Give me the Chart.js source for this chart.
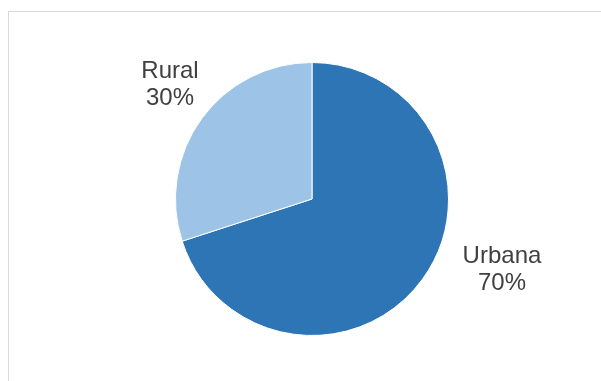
<!DOCTYPE html>
<html>
<head>
<meta charset="utf-8">
<script src="https://cdn.jsdelivr.net/npm/chart.js@4"></script>
<style>
  html, body { margin: 0; padding: 0; background: #fff; overflow: hidden; }
  #wrap { position: relative; width: 601px; height: 381px; }
  #frame { position: absolute; left: 8px; top: 11px; width: 700px; height: 500px; border: 1px solid #d9d9d9; box-sizing: border-box; }
  canvas { position: absolute; left: 0; top: 0; }
</style>
</head>
<body>
<div id="wrap">
  <div id="frame"></div>
  <canvas id="chart" width="601" height="381"></canvas>
</div>
<script>
const labels = ['Urbana', 'Rural'];
const values = [70, 30];
const colors = ['#2E75B6', '#9DC3E6'];

// label offsets from the slice's outer midpoint (dx, dy in px)
const labelShift = [[42, -30], [6, 0]];

const outsideLabels = {
  id: 'outsideLabels',
  afterDatasetsDraw(chart) {
    const ctx = chart.ctx;
    const meta = chart.getDatasetMeta(0);
    const total = values.reduce((a, b) => a + b, 0);
    ctx.save();
    ctx.font = '24px "Liberation Sans", Arial, sans-serif';
    ctx.fillStyle = '#404040';
    ctx.textAlign = 'center';
    ctx.textBaseline = 'alphabetic';
    meta.data.forEach((arc, i) => {
      const p = arc.getProps(['x', 'y', 'startAngle', 'endAngle', 'outerRadius'], true);
      const mid = (p.startAngle + p.endAngle) / 2;
      const r = p.outerRadius * 1.34;
      const x = p.x + Math.cos(mid) * r + labelShift[i][0];
      const y = p.y + Math.sin(mid) * r + labelShift[i][1];
      const pct = Math.round(values[i] / total * 100) + '%';
      ctx.fillText(labels[i], x, y - 13.5);
      ctx.fillText(pct, x, y + 13.5);
    });
    ctx.restore();
  }
};

new Chart(document.getElementById('chart'), {
  type: 'pie',
  data: {
    labels: labels,
    datasets: [{
      data: values,
      backgroundColor: colors,
      borderColor: '#ffffff',
      borderWidth: 1
    }]
  },
  options: {
    responsive: false,
    animation: false,
    layout: { padding: { top: 62, bottom: 45, left: 100, right: 77 } },
    plugins: {
      legend: { display: false },
      tooltip: { enabled: false }
    }
  },
  plugins: [outsideLabels]
});
</script>
</body>
</html>
